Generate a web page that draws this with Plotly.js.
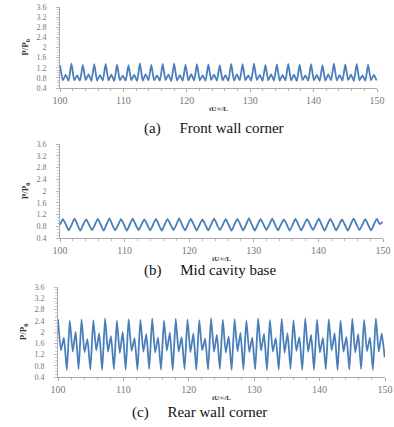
<!DOCTYPE html>
<html>
<head>
<meta charset="utf-8">
<script src="https://cdn.plot.ly/plotly-3.0.1.min.js"></script>
<style>html,body{margin:0;padding:0;background:#fff;}#chart{width:394px;height:427px;}</style>
</head>
<body>
<div id="chart"></div>
<script>
// shared time samples tU∞/L
const t = [100.00,100.45,100.90,101.35,101.80,102.25,102.70,103.15,103.60,104.05,104.50,104.95,105.40,105.85,106.30,106.75,107.20,107.65,108.10,108.55,109.00,109.45,109.90,110.35,110.80,111.25,111.70,112.15,112.60,113.05,113.50,113.95,114.40,114.85,115.30,115.75,116.20,116.65,117.10,117.55,118.00,118.45,118.90,119.35,119.80,120.25,120.70,121.15,121.60,122.05,122.50,122.95,123.40,123.85,124.30,124.75,125.20,125.65,126.10,126.55,127.00,127.45,127.90,128.35,128.80,129.25,129.70,130.15,130.60,131.05,131.50,131.95,132.40,132.85,133.30,133.75,134.20,134.65,135.10,135.55,136.00,136.45,136.90,137.35,137.80,138.25,138.70,139.15,139.60,140.05,140.50,140.95,141.40,141.85,142.30,142.75,143.20,143.65,144.10,144.55,145.00,145.45,145.90,146.35,146.80,147.25,147.70,148.15,148.60,149.05,149.50,149.95];

// (a) Front wall corner
const frontWall = [1.30,0.70,0.92,0.68, 1.36,0.70,0.90,0.69, 1.31,0.71,0.94,0.68, 1.34,0.69,0.91,0.70, 1.35,0.70,0.93,0.68, 1.32,0.71,0.89,0.69, 1.30,0.70,0.92,0.68, 1.37,0.69,0.94,0.70, 1.31,0.70,0.90,0.69, 1.35,0.71,0.93,0.68, 1.36,0.70,0.91,0.69, 1.32,0.69,0.95,0.70, 1.34,0.70,0.90,0.68, 1.33,0.71,0.93,0.69, 1.30,0.70,0.91,0.68, 1.35,0.69,0.94,0.70, 1.34,0.70,0.90,0.69, 1.36,0.71,0.92,0.68, 1.31,0.70,0.94,0.69, 1.33,0.69,0.91,0.70, 1.35,0.70,0.93,0.68, 1.32,0.71,0.90,0.69, 1.34,0.70,0.92,0.68, 1.30,0.69,0.94,0.70, 1.36,0.70,0.91,0.69, 1.33,0.71,0.93,0.68, 1.35,0.70,0.90,0.69, 1.32,0.70,0.92,0.70];

// (b) Mid cavity base
const midBase = [0.85,1.04,0.86,0.66, 0.85,1.06,0.85,0.65, 0.86,1.03,0.85,0.67, 0.85,1.05,0.86,0.65, 0.86,1.07,0.85,0.66, 0.85,1.04,0.86,0.65, 0.86,1.06,0.85,0.67, 0.85,1.03,0.86,0.66, 0.85,1.05,0.85,0.65, 0.86,1.04,0.86,0.67, 0.85,1.07,0.85,0.66, 0.86,1.05,0.86,0.65, 0.85,1.03,0.85,0.66, 0.86,1.06,0.86,0.67, 0.85,1.04,0.85,0.65, 0.86,1.05,0.86,0.66, 0.85,1.07,0.85,0.65, 0.86,1.04,0.86,0.67, 0.85,1.06,0.85,0.66, 0.86,1.03,0.86,0.65, 0.85,1.05,0.85,0.66, 0.86,1.04,0.86,0.67, 0.85,1.06,0.85,0.65, 0.86,1.05,0.86,0.66, 0.85,1.03,0.85,0.65, 0.86,1.06,0.86,0.67, 0.85,1.04,0.85,0.66, 0.86,1.05,0.87,0.95];

// (c) Rear wall corner
const rearWall = [2.45,1.35,1.80,0.65, 2.40,1.30,2.00,0.68, 2.45,1.28,1.75,0.66, 2.42,1.35,1.95,0.65, 2.48,1.30,1.85,0.67, 2.40,1.25,2.00,0.66, 2.46,1.33,1.78,0.65, 2.44,1.30,1.92,0.68, 2.48,1.27,1.80,0.66, 2.41,1.34,1.98,0.65, 2.47,1.30,1.82,0.67, 2.45,1.28,1.95,0.65, 2.42,1.35,1.76,0.66, 2.49,1.30,1.90,0.68, 2.44,1.27,1.84,0.65, 2.46,1.32,1.97,0.66, 2.41,1.29,1.80,0.67, 2.48,1.34,1.93,0.65, 2.43,1.30,1.78,0.66, 2.47,1.26,1.96,0.68, 2.42,1.33,1.82,0.65, 2.48,1.30,1.90,0.66, 2.44,1.28,1.79,0.67, 2.46,1.34,1.95,0.65, 2.41,1.30,1.83,0.66, 2.47,1.27,1.92,0.68, 2.43,1.32,1.80,0.65, 2.48,1.30,1.95,1.10];

const yTickVals = [0.4,0.8,1.2,1.6,2.0,2.4,2.8,3.2,3.6];
const yTickText = ["0.4","0.8","1.2","1.6","2","2.4","2.8","3.2","3.6"];
const xTickVals = [100,110,120,130,140,150];
const capLabels = ["(a)","(b)","(c)"];
const capTexts = ["Front wall corner","Mid cavity base","Rear wall corner"];

const W = 394, H = 427;
const lineColor = '#4a7ebb';
const series = [frontWall, midBase, rearWall];
const traces = series.map((y, i) => ({
  x: t, y: y, type: 'scatter', mode: 'lines',
  xaxis: i === 0 ? 'x' : 'x' + (i + 1),
  yaxis: i === 0 ? 'y' : 'y' + (i + 1),
  line: {color: lineColor, width: 1.8, shape: 'spline', smoothing: 0.5},
  hoverinfo: 'skip', showlegend: false
}));

// pixel boxes of the three plot areas [left, right, top, bottom]
const boxes = [[60,377,7,88],[60,383,144,238],[58,385,287,377]];
const layout = {
  width: W, height: H,
  margin: {l:0, r:0, t:0, b:0},
  paper_bgcolor: '#fff', plot_bgcolor: '#fff',
  showlegend: false,
  annotations: []
};
const capY = [128, 270, 412];
const capX = [142, 142, 130];
const nb = '&nbsp;&nbsp;&nbsp;&nbsp;&nbsp;';
boxes.forEach((b, i) => {
  const sx = i === 0 ? '' : String(i + 1);
  layout['xaxis' + sx] = {
    domain: [b[0]/W, b[1]/W], anchor: 'y' + sx,
    range: [100, 150], tickvals: xTickVals,
    ticks: 'outside', ticklen: 3, tickcolor: '#aaa',
    minor: {dtick: 2, ticks: 'outside', ticklen: 2, tickcolor: '#bbb'},
    showline: true, linecolor: '#aaa', linewidth: 1,
    showgrid: false, zeroline: false, automargin: false,
    tickfont: {family: 'Liberation Serif', size: 10, color: '#777'},
    title: {text: '<b>tU∞/L</b>', standoff: 1, font: {family: 'Liberation Serif', size: 7, color: '#333'}}
  };
  layout['yaxis' + sx] = {
    domain: [1 - b[3]/H, 1 - b[2]/H], anchor: 'x' + sx,
    range: [0.4, 3.6], tickvals: yTickVals, ticktext: yTickText,
    ticks: 'outside', ticklen: 3, tickcolor: '#bbb',
    minor: {dtick: 0.1, ticks: 'outside', ticklen: 2, tickcolor: '#ccc'},
    showline: true, linecolor: '#aaa', linewidth: 1,
    showgrid: false, zeroline: false, automargin: false,
    ticklabelstandoff: 8,
    tickfont: {family: 'Liberation Serif', size: 8, color: '#777'},
    title: {text: '<b>P/P<sub>0</sub></b>', standoff: 6, font: {family: 'Liberation Serif', size: 9, color: '#333'}}
  };
  layout.annotations.push({
    text: capLabels[i] + nb + capTexts[i], xref: 'paper', yref: 'paper',
    x: capX[i]/W, y: 1 - capY[i]/H, xanchor: 'left', yanchor: 'middle',
    showarrow: false, font: {family: 'Liberation Serif', size: 15, color: '#111'}
  });
});

Plotly.newPlot('chart', traces, layout, {staticPlot: true, displayModeBar: false});
</script>
</body>
</html>
